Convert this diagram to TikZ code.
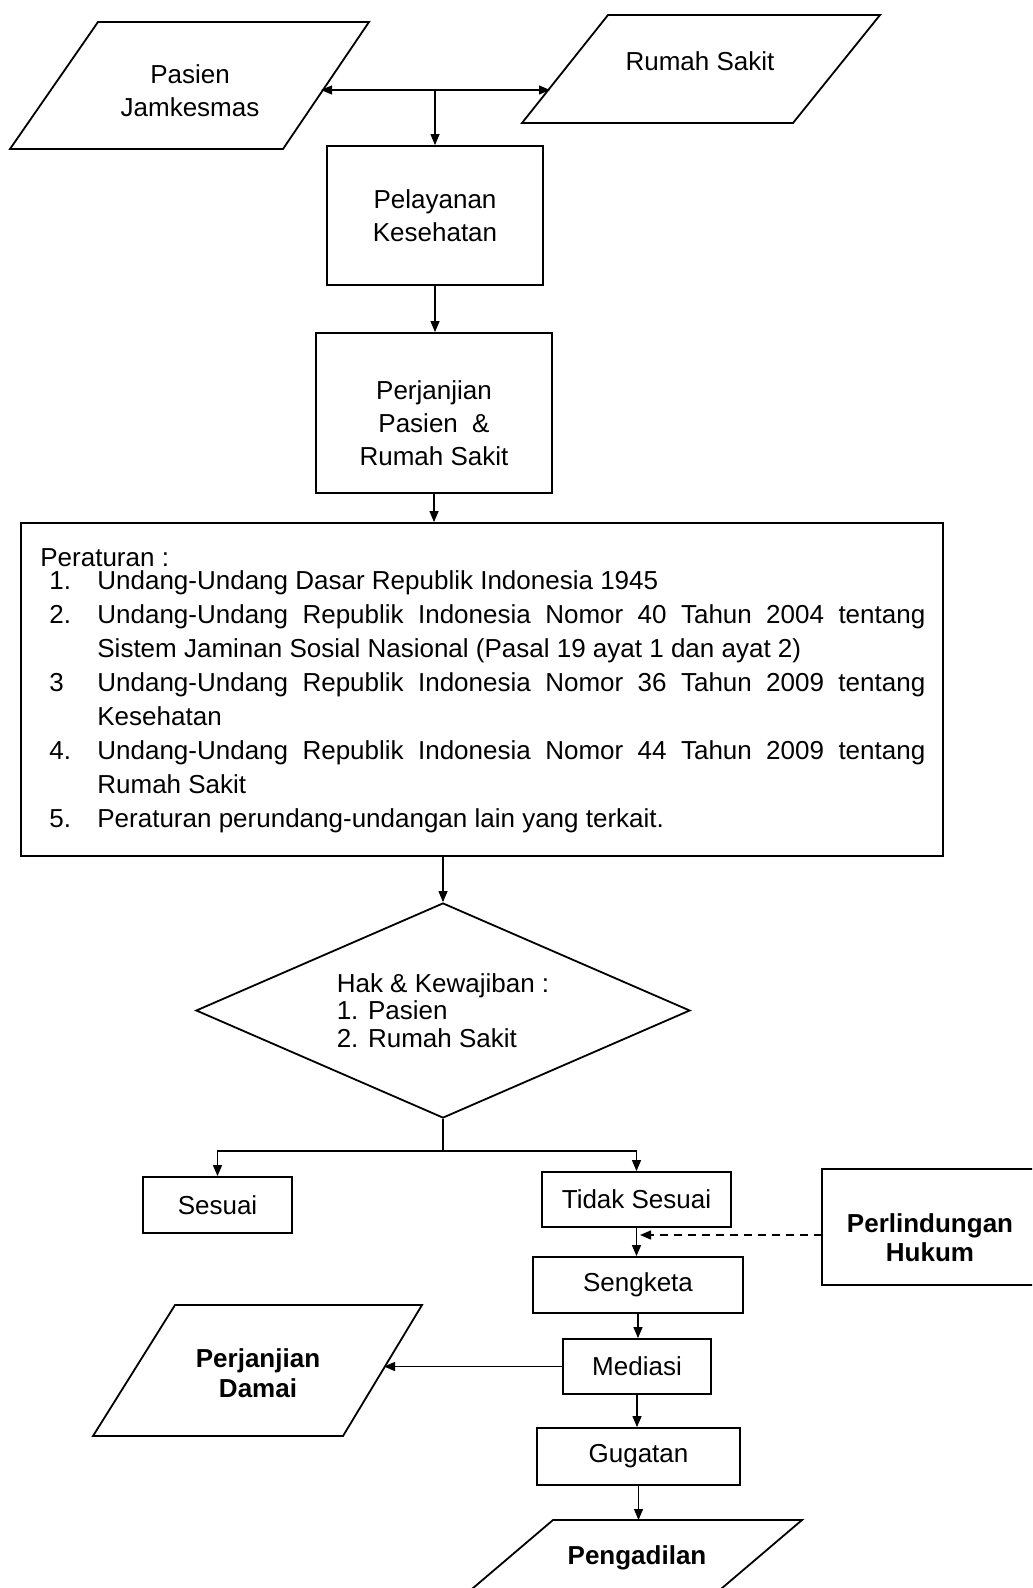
\documentclass[tikz,border=0pt]{standalone}
\usepackage{fontspec}
\setmainfont{Liberation Sans}
\usetikzlibrary{arrows.meta,shapes.geometric,calc}
\newcommand\lblfont{\fontsize{13}{16.5}\selectfont}
\newcommand\listfont{\fontsize{13}{17}\selectfont}
\newcommand\diafont{\fontsize{13}{13.75}\selectfont}
\newcommand\boldlbl{\fontsize{13}{14.5}\selectfont\bfseries}
\begin{document}
\begin{tikzpicture}[x=0.5pt,y=-0.5pt,
  box/.style={draw, line width=0.9pt, inner sep=0pt, align=center, font=\lblfont},
  lbl/.style={inner sep=0pt, align=center, font=\lblfont},
  outline/.style={draw, line width=0.9pt, line join=miter},
  arr/.style={-{Triangle[length=5.5pt,width=4.5pt]}, line width=0.6pt},
  dasharr/.style={arr, dash pattern=on 4pt off 3pt}]
\useasboundingbox (0,0) rectangle (1032,1588);
\clip (0,0) rectangle (1032,1588);
\fill[white] (0,0) rectangle (1032,1588);

% top parallelograms
\draw[outline] (98,22) -- (369,22) -- (283,149) -- (10,149) -- cycle;
\node[lbl] (pasien) at (190,90.5) {Pasien\\Jamkesmas};
\draw[outline] (608,15) -- (880,15) -- (793,123) -- (522,123) -- cycle;
\node[lbl] (rs) at (700,61) {Rumah Sakit};

% process boxes
\node[box, minimum width=108pt, minimum height=69.5pt] (pel) at (435,215.5) {Pelayanan\\Kesehatan};
\node[box, minimum width=118pt, minimum height=80pt] (perj) at (434,413) {};
\node[lbl] (perjt) at (434,423.5) {Perjanjian\\Pasien\hspace{0.55em}\&\\Rumah Sakit};

% regulations box
\node[box, minimum width=461pt, minimum height=166.5pt] (perat) at (482,689.5) {};
\node[lbl, anchor=base west] (perathead) at (40,566) {Peraturan :};
\node[anchor=north west, inner sep=0pt, text width=442.5pt, align=justify, font=\listfont] (peratlist) at (40,570) {%
\hyphenpenalty=10000 \exhyphenpenalty=10000 \leftskip=28.5pt \parindent=0pt
\noindent\llap{\makebox[24pt][l]{1.}}Undang-Undang Dasar Republik Indonesia 1945\par
\noindent\llap{\makebox[24pt][l]{2.}}Undang-Undang Republik Indonesia Nomor 40 Tahun 2004 tentang Sistem Jaminan Sosial Nasional (Pasal 19 ayat 1 dan ayat 2)\par
\noindent\llap{\makebox[24pt][l]{3}}Undang-Undang Republik Indonesia Nomor 36 Tahun 2009 tentang Kesehatan\par
\noindent\llap{\makebox[24pt][l]{4.}}Undang-Undang Republik Indonesia Nomor 44 Tahun 2009 tentang Rumah Sakit\par
\noindent\llap{\makebox[24pt][l]{5.}}Peraturan perundang-undangan lain yang terkait.\par};

% decision
\node[diamond, draw, line width=0.9pt, aspect=2.3, minimum width=247pt, minimum height=107.5pt, inner sep=0pt, align=left, font=\diafont] (dia) at (443,1010.5) {Hak \& Kewajiban :\\1. Pasien\\2. Rumah Sakit};

% lower boxes
\node[box, minimum width=74.5pt, minimum height=28pt] (ses) at (217.5,1205) {Sesuai};
\node[box, minimum width=94.5pt, minimum height=27.5pt] (tid) at (636.5,1199.5) {Tidak Sesuai};
\node[box, minimum width=105pt, minimum height=28pt] (seng) at (638,1285) {Sengketa};
\node[box, minimum width=74pt, minimum height=27.5pt] (med) at (637,1366.5) {Mediasi};
\node[box, minimum width=101.5pt, minimum height=28.5pt] (gug) at (638.5,1456.5) {Gugatan};

% Perlindungan Hukum (box runs off the right edge)
\draw[outline] (1045,1169) -| (822,1285) -- (1045,1285);
\node[lbl, font=\boldlbl] (perl) at (930,1237.5) {Perlindungan\\Hukum};

% Perjanjian Damai
\draw[outline] (175,1305) -- (422,1305) -- (343,1436) -- (93,1436) -- cycle;
\node[lbl, font=\fontsize{13}{15}\selectfont\bfseries] (damai) at (258,1373) {Perjanjian\\Damai};

% Pengadilan
\draw[outline] (553,1520) -- (802,1520) -- (708,1600) -- (459,1600) -- cycle;
\node[lbl, font=\boldlbl] (peng) at (637,1558) {Pengadilan};

% connector points
\coordinate (junc) at (435,90);
\coordinate (pasR) at (321,90);
\coordinate (rsL) at (550,90);
\coordinate (perlW) at (822,1235);
\coordinate (dtip) at (640,1235);
\coordinate (damR) at (384,1366.5);
\coordinate (pengTop) at (638.5,1520);

% connectors
\draw[arr] (junc) -- (pasR);
\draw[arr] (junc) -- (rsL);
\draw[arr] (junc) -- (pel.north);
\draw[arr] (pel.south) -- (pel.south |- perj.north);
\draw[arr] (perj.south) -- (perj.south |- perat.north);
\draw[arr] (dia.north |- perat.south) -- (dia.north);
\draw[line width=0.6pt] (dia.south) -- ($(dia.south)+(0,32)$) coordinate (split);
\draw[arr] (split) -| (ses.north);
\draw[arr] (split) -| (tid.north);
\draw[arr] (tid.south) -- (tid.south |- seng.north);
\draw[dasharr] (perlW) -- (dtip);
\draw[arr] (seng.south) -- (seng.south |- med.north);
\draw[arr] (med.west) -- (damR);
\draw[arr] (med.south) -- (med.south |- gug.north);
\draw[arr] (gug.south) -- (pengTop);
\end{tikzpicture}
\end{document}
